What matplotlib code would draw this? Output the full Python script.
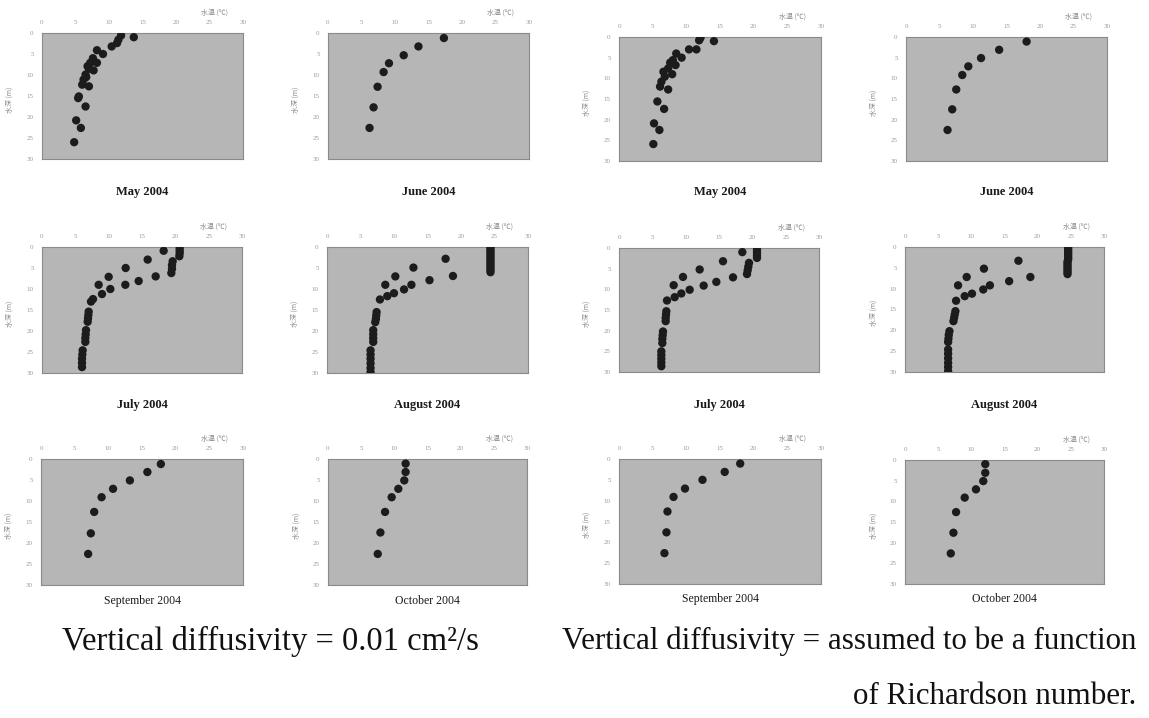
import matplotlib
matplotlib.use("Agg")
import matplotlib.pyplot as plt

plt.rcParams['font.family'] = ['Liberation Serif', 'Noto Sans CJK SC', 'DejaVu Sans']

# ---------------- data (temperature degC, depth m) ----------------
panel_titles = ["May 2004", "June 2004", "May 2004", "June 2004",
                "July 2004", "August 2004", "July 2004", "August 2004",
                "September 2004", "October 2004", "September 2004", "October 2004"]

x_ticks = [0, 5, 10, 15, 20, 25, 30]
y_ticks = [0, 5, 10, 15, 20, 25, 30]
x_label = "水温 (℃)"
y_label = "水深 (m)"

may_a_T = [11.8, 13.7, 11.4, 11.2, 10.4, 9.1, 8.2, 8.2, 7.2, 6.8, 7.7, 6.5, 6.2, 6.0, 7.0, 5.5, 5.4, 6.5, 5.1, 5.8, 4.8, 7.6, 7.0, 6.6]
may_a_D = [0.6, 1.0, 1.6, 2.4, 3.2, 5.0, 4.1, 7.1, 7.1, 7.9, 8.9, 9.9, 11.1, 12.3, 12.7, 15.1, 15.5, 17.5, 20.8, 22.6, 26.0, 6.0, 8.5, 10.5]

jun_a_T = [17.3, 13.5, 11.3, 9.1, 8.3, 7.4, 6.8, 6.2]
jun_a_D = [1.2, 3.2, 5.3, 7.2, 9.3, 12.8, 17.7, 22.6]

may_b_T = [12.1, 11.9, 14.1, 11.5, 10.4, 8.5, 9.3, 8.0, 8.4, 7.3, 7.9, 6.8, 6.3, 6.1, 7.3, 5.7, 6.7, 5.2, 6.0, 5.1, 7.6, 6.6]
may_b_D = [0.2, 0.8, 1.0, 3.0, 3.0, 4.0, 5.0, 5.6, 6.8, 7.6, 9.0, 9.6, 10.8, 12.0, 12.7, 15.6, 17.4, 20.9, 22.5, 25.9, 6.2, 8.4]

jun_b_T = [18.0, 13.9, 11.2, 9.3, 8.4, 7.5, 6.9, 6.2]
jun_b_D = [1.1, 3.1, 5.1, 7.1, 9.2, 12.7, 17.5, 22.5]

jul_a_T = [18.25, 20.65, 20.65, 20.65, 20.6, 19.6, 19.5, 19.5, 19.4, 15.85, 12.55, 17.05, 14.5, 12.5,
           10.0, 8.5, 10.25, 9.0, 7.65, 7.35, 7.0, 6.95, 6.9, 6.85, 6.6, 6.55, 6.5, 6.5,
           6.1, 6.05, 6.0, 6.0, 6.0]
jul_a_D = [0.9, 0.3, 0.9, 1.5, 2.2, 3.4, 4.3, 5.2, 6.2, 3.0, 5.0, 7.0, 8.1, 9.0,
           7.1, 9.0, 10.0, 11.2, 12.4, 13.0, 15.4, 16.2, 17.0, 17.8, 19.8, 20.8, 21.7, 22.6,
           24.6, 25.6, 26.6, 27.6, 28.6]

aug_a_T = [24.4, 24.4, 24.4, 24.4, 24.4, 24.4, 24.4, 24.4, 24.4, 24.4, 24.4, 24.4, 24.4,
           17.7, 12.9, 18.8, 15.3, 10.2, 8.7, 12.6, 11.5, 10.0, 9.0, 7.9,
           7.4, 7.35, 7.3, 7.2, 6.9, 6.9, 6.9, 6.9,
           6.5, 6.5, 6.5, 6.5, 6.5, 6.5]
aug_a_D = [0.0, 0.5, 1.0, 1.5, 2.0, 2.5, 3.0, 3.5, 4.0, 4.5, 5.0, 5.5, 6.0,
           2.8, 4.9, 6.9, 7.9, 7.0, 9.0, 9.0, 10.1, 11.0, 11.7, 12.5,
           15.5, 16.3, 17.1, 17.9, 19.8, 20.8, 21.7, 22.6,
           24.6, 25.6, 26.6, 27.7, 28.8, 29.8]

jul_b_T = [18.5, 20.7, 20.7, 20.7, 20.7, 19.5, 19.4, 19.3, 19.2, 15.6, 12.1, 17.1, 14.6, 12.7,
           9.6, 8.2, 10.6, 9.35, 8.35, 7.2, 7.1, 7.05, 7.0, 7.0, 6.6, 6.55, 6.5, 6.5,
           6.35, 6.35, 6.35, 6.35, 6.35]
jul_b_D = [1.0, 0.4, 1.1, 1.8, 2.4, 3.6, 4.5, 5.4, 6.3, 3.2, 5.2, 7.1, 8.2, 9.1,
           7.0, 9.0, 10.1, 11.0, 11.9, 12.7, 15.3, 16.1, 16.9, 17.7, 20.2, 21.1, 22.0, 23.0,
           25.0, 25.9, 26.8, 27.7, 28.6]

aug_b_T = [24.6, 24.6, 24.6, 24.6, 24.6, 24.6, 24.6, 24.5, 24.5, 24.5, 24.5, 24.5, 24.5, 24.5,
           17.1, 11.9, 18.9, 15.7, 9.3, 8.0, 12.8, 11.8, 10.1, 9.0, 7.7,
           7.6, 7.5, 7.4, 7.3, 6.7, 6.6, 6.55, 6.5,
           6.5, 6.5, 6.5, 6.5, 6.5, 6.5]
aug_b_D = [0.0, 0.5, 1.0, 1.5, 2.0, 2.5, 3.0, 3.5, 4.0, 4.5, 5.0, 5.5, 6.0, 6.5,
           3.3, 5.2, 7.2, 8.2, 7.2, 9.2, 9.2, 10.2, 11.2, 11.8, 12.9,
           15.4, 16.2, 17.0, 17.8, 20.2, 21.1, 22.0, 22.8,
           24.6, 25.6, 26.7, 27.8, 28.8, 29.8]

sep_a_T = [17.8, 15.8, 13.2, 10.7, 9.0, 7.9, 7.4, 7.0]
sep_a_D = [1.2, 3.1, 5.1, 7.1, 9.1, 12.6, 17.7, 22.6]

oct_a_T = [11.7, 11.7, 11.5, 10.6, 9.6, 8.6, 7.9, 7.5]
oct_a_D = [1.1, 3.1, 5.1, 7.1, 9.1, 12.6, 17.5, 22.6]

sep_b_T = [18.0, 15.7, 12.4, 9.8, 8.1, 7.2, 7.05, 6.75]
sep_b_D = [1.1, 3.1, 5.0, 7.1, 9.1, 12.6, 17.6, 22.6]

oct_b_T = [12.1, 12.1, 11.8, 10.7, 9.0, 7.7, 7.3, 6.9]
oct_b_D = [1.0, 3.1, 5.1, 7.1, 9.1, 12.6, 17.6, 22.6]

panel_T = [may_a_T, jun_a_T, may_b_T, jun_b_T, jul_a_T, aug_a_T, jul_b_T, aug_b_T,
           sep_a_T, oct_a_T, sep_b_T, oct_b_T]
panel_D = [may_a_D, jun_a_D, may_b_D, jun_b_D, jul_a_D, aug_a_D, jul_b_D, aug_b_D,
           sep_a_D, oct_a_D, sep_b_D, oct_b_D]

caption_left = "Vertical diffusivity = 0.01 cm²/s"
caption_right1 = "Vertical diffusivity = assumed to be a function"
caption_right2 = "of Richardson number."

# ---------------- layout ----------------
W, H = 1149, 718
fig = plt.figure(figsize=(W / 100, H / 100), dpi=100)
fig.patch.set_facecolor('white')

boxes = [(42, 33, 243, 159), (328, 33, 529, 159), (619, 37, 821, 161), (906, 37, 1107, 161),
         (42, 247, 242, 373), (327, 247, 528, 373), (619, 248, 819, 372), (905, 247, 1104, 372),
         (41, 459, 243, 585), (328, 459, 527, 585), (619, 459, 821, 584), (905, 460, 1104, 584)]
title_y = [192, 192, 192, 192, 405, 405, 405, 405, 601, 601, 599, 599]

for i, (x0, y0, x1, y1) in enumerate(boxes):
    ax = fig.add_axes([x0 / W, 1 - y1 / H, (x1 - x0) / W, (y1 - y0) / H])
    ax.set_facecolor('#b6b6b6')
    ax.scatter(panel_T[i], panel_D[i], s=36, color='#1c1c1c', edgecolors='none', zorder=3)
    ax.set_xlim(0, 30)
    ax.set_ylim(30, 0)
    ax.set_xticks(x_ticks)
    ax.set_yticks(y_ticks)
    ax.xaxis.tick_top()
    ax.tick_params(length=0, labelsize=5, labelcolor='#9a9a9a', pad=6)
    for sp in ax.spines.values():
        sp.set_color('#8a8a8a')
        sp.set_linewidth(0.8)
    ax.text(0.86, 1.13, x_label, transform=ax.transAxes, fontsize=5, color='#8a8a8a',
            ha='center', va='bottom', family=['Noto Sans CJK SC', 'DejaVu Sans'])
    ax.text(-0.16, 0.47, y_label, transform=ax.transAxes, fontsize=5, color='#8a8a8a',
            ha='center', va='center', rotation=90, family=['Noto Sans CJK SC', 'DejaVu Sans'])
    cx = (x0 + x1) / 2
    bold = 'bold' if i < 8 else 'normal'
    fig.text(cx / W, 1 - title_y[i] / H, panel_titles[i], ha='center', va='center',
             fontsize=9 if i < 8 else 8.5, fontweight=bold, color='#1a1a1a')

fig.text(62 / W, 1 - 641 / H, caption_left, ha='left', va='center', fontsize=23.5, color='#111111')
fig.text(1136 / W, 1 - 641 / H, caption_right1, ha='right', va='center', fontsize=22.3, color='#111111')
fig.text(1136 / W, 1 - 697 / H, caption_right2, ha='right', va='center', fontsize=22.3, color='#111111')

fig.savefig("out.png", dpi=100)
